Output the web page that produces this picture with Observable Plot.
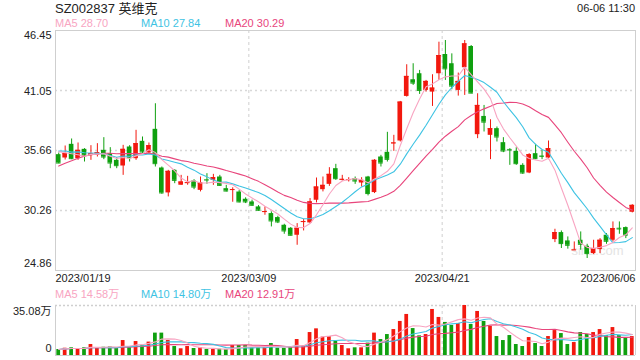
<!DOCTYPE html>
<html><head><meta charset="utf-8">
<script src="https://cdn.jsdelivr.net/npm/d3@7"></script>
<script src="https://cdn.jsdelivr.net/npm/@observablehq/plot@0.6"></script>
<style>
body{margin:0;background:#fff;font-family:Arial,"Liberation Sans","Noto Sans CJK SC",sans-serif;}
#wrap{position:relative;width:640px;height:360px;overflow:hidden;background:#fff}
#wrap svg{position:absolute;left:0}
.t{position:absolute;white-space:nowrap;line-height:1;font-size:11px}
</style></head><body><div id="wrap"></div>
<script>
// ---- data ----
const title = "SZ002837 英维克";
const timeLabel = "06-06 11:30";
const priceMALegend = ["MA5 28.70", "MA10 27.84", "MA20 30.29"];
const volMALegend = ["MA5 14.58万", "MA10 14.80万", "MA20 12.91万"];
const priceTicks = [46.45, 41.05, 35.66, 30.26, 24.86];
const priceTickLabels = ["46.45", "41.05", "35.66", "30.26", "24.86"];
const volTicks = [35.08, 0];
const volTickLabels = ["35.08万", "0"];
const dateLabels = ["2023/01/19", "2023/03/09", "2023/04/21", "2023/06/06"];
const dateIdx = [0, 30, 60, 89];

const open = [35.28,34.98,36.21,34.92,35.76,35.19,35.22,35.67,35.37,34.77,34.26,35.97,34.92,36.48,35.43,37.56,34.08,31.84,33.87,32.53,
32.70,32.91,32.07,33.03,32.97,33.27,32.22,32.10,31.92,31.27,31.03,30.58,30.10,29.98,29.62,28.93,28.66,28.03,29.20,29.14,
31.18,32.13,32.61,34.02,33.00,33.00,33.12,32.73,33.27,31.87,35.07,35.49,36.27,36.51,40.52,42.02,42.56,41.06,40.91,42.56,
44.29,43.46,41.06,43.10,45.01,37.08,38.72,37.02,37.62,36.36,35.75,35.58,34.32,33.63,35.37,35.16,34.98,27.64,28.27,27.52,
26.68,27.58,27.04,26.38,26.74,28.03,27.58,28.66,28.72,30.10];
const close = [34.53,35.37,34.92,35.67,35.22,35.37,35.46,35.07,34.53,34.29,35.76,35.01,36.27,35.52,36.09,34.47,31.84,33.78,32.97,32.82,
32.76,32.37,32.73,33.00,33.21,32.52,32.01,32.14,31.03,31.03,30.73,30.28,30.16,29.32,29.23,28.42,28.03,28.66,29.26,31.03,
32.37,32.52,33.51,33.12,33.06,33.03,32.91,32.97,31.78,34.77,34.53,34.86,36.33,40.01,42.32,41.72,41.06,41.87,41.27,44.20,
43.00,41.45,41.87,45.25,40.82,39.71,38.21,37.62,36.87,35.61,35.70,34.47,33.63,35.28,34.92,35.13,35.82,28.27,27.28,27.13,
26.71,27.22,26.38,26.83,27.58,27.49,28.63,28.60,28.03,30.72];
const high = [35.43,36.06,36.69,36.33,35.82,36.09,36.27,36.81,35.91,35.01,36.12,36.09,37.47,36.87,36.33,39.86,34.17,33.87,33.93,33.42,
33.33,33.03,33.27,33.57,33.51,33.42,32.52,32.30,32.07,31.40,31.19,30.70,30.58,30.13,29.74,29.02,28.72,29.08,29.44,31.33,
33.18,33.27,34.11,34.41,33.42,33.21,33.27,33.21,33.33,34.83,35.22,37.29,37.02,40.07,43.37,43.46,42.86,41.96,42.47,45.40,
45.55,44.35,42.62,45.55,45.10,40.76,39.71,38.42,37.77,36.81,35.82,35.91,34.47,35.37,36.21,35.67,36.51,28.57,28.42,27.88,
27.43,28.33,27.22,27.58,27.73,28.18,29.23,29.23,28.78,30.78];
const low = [34.47,34.80,34.83,34.77,34.62,34.77,35.07,34.83,34.02,34.02,33.42,34.62,34.77,35.37,35.31,34.17,31.72,31.48,32.67,32.53,
32.53,32.13,31.93,32.61,32.52,32.43,31.93,31.00,30.94,30.88,30.64,30.19,29.83,28.78,29.08,28.12,27.97,27.13,28.42,29.08,
30.94,31.93,32.43,32.97,32.91,32.82,32.61,32.37,31.57,31.78,34.17,34.62,35.58,36.42,40.46,41.51,40.70,40.91,39.62,41.96,
41.96,41.12,40.55,40.61,40.76,36.72,37.32,34.83,36.42,35.46,34.32,34.32,33.51,33.57,34.83,34.83,34.83,27.37,26.84,26.78,
26.68,26.68,25.94,26.29,26.38,27.22,27.43,28.12,27.73,30.04];
// volume in 万 (10k shares)
const volume = [4.2,5.1,5.4,4.9,5.4,7.7,5.1,5.8,6.1,4.9,10.5,5.8,9.8,7.0,9.4,15.7,15.7,10.5,6.3,4.7,
6.3,4.9,5.4,4.2,4.2,4.4,4.2,7.0,7.0,7.0,5.4,5.4,6.3,8.4,5.1,5.1,5.8,11.2,7.0,16.1,
18.7,12.9,13.3,10.5,7.0,4.7,5.4,5.4,8.7,15.7,11.2,14.7,18.2,23.9,28.8,18.9,13.8,14.7,32.3,26.7,
23.2,21.1,22.5,35.08,21.8,30.9,23.9,20.4,13.3,10.5,14.0,7.7,6.3,12.6,8.4,6.3,13.3,17.5,15.4,7.7,
9.1,16.1,14.7,16.1,18.2,14.0,19.6,14.0,12.6,13.3];
// estimated closes of the 19 sessions before the first shown day (only feed the moving averages)
const priorCloses = [30.2,30.6,31.0,31.4,33.0,33.6,34.2,34.6,35.0,35.4,35.3,35.9,35.5,36.0,35.6,35.8,35.4,36.1,35.9];

// ---- styling ----
const UP = "#f2180e", DOWN = "#0fa00f";
const MA5C = "#f8a5c2", MA10C = "#3ec3e3", MA20C = "#e8457c";
const TXT = "#222";
const FONT = 'Arial, "Liberation Sans", "Noto Sans CJK SC", sans-serif';

const N = close.length;
const idx = d3.range(N);
const candles = idx.map(i => ({i, o: open[i], h: high[i], l: low[i], c: close[i], v: volume[i],
  col: close[i] >= open[i] ? UP : DOWN}));
const allC = priorCloses.concat(close);
const off = priorCloses.length;
const maP = n => idx.map(i => ({i, v: d3.mean(allC.slice(i + off - n + 1, i + off + 1))}));
const maV = n => idx.map(i => ({i, v: d3.mean(volume.slice(Math.max(0, i - n + 1), i + 1))}));

const style = {fontFamily: FONT, fontSize: "11px", color: TXT, background: "transparent", overflow: "visible"};
const hw = 0.36;

const price = Plot.plot({
  width: 640, height: 285, marginLeft: 55, marginRight: 5, marginTop: 30, marginBottom: 15,
  style,
  x: {domain: [-0.5, N - 0.5], axis: null},
  y: {domain: [priceTicks[priceTicks.length - 1], priceTicks[0]], axis: null},
  color: {type: "identity"},
  marks: [
    Plot.ruleY(priceTicks.slice(1, -1), {stroke: "#d8d8d8", strokeWidth: 1.5, strokeDasharray: "2,3"}),
    Plot.ruleX(dateIdx.slice(1, -1), {x: d => d - 0.5, stroke: "#cfcfcf", strokeDasharray: "3,3"}),
    Plot.frame({stroke: "#cfcfcf"}),
    Plot.text(["sina.com"], {frameAnchor: "bottom-right", dx: -12, dy: -16, text: d => d, fill: "#e4e4e4", fontSize: 13}),
    Plot.ruleX(candles, {x: "i", y1: "l", y2: "h", stroke: "col", strokeWidth: 1}),
    Plot.rect(candles, {x1: d => d.i - hw, x2: d => d.i + hw, y1: "o", y2: "c", fill: "col"}),
    Plot.ruleY(candles, {x1: d => d.i - hw, x2: d => d.i + hw, y: "c", stroke: "col"}),
    Plot.line(maP(20), {x: "i", y: "v", stroke: MA20C, strokeWidth: 1.1}),
    Plot.line(maP(10), {x: "i", y: "v", stroke: MA10C, strokeWidth: 1.1}),
    Plot.line(maP(5), {x: "i", y: "v", stroke: MA5C, strokeWidth: 1.1}),
    Plot.text([0], {y: () => priceTicks[0], text: () => priceTickLabels[0], frameAnchor: "left", dx: -4, textAnchor: "end", lineAnchor: "bottom", dy: 8.5, fill: TXT}),
    Plot.text(d3.range(1, priceTicks.length - 1), {y: i => priceTicks[i], text: i => priceTickLabels[i], frameAnchor: "left", dx: -4, textAnchor: "end", lineAnchor: "bottom", dy: 4, fill: TXT}),
    Plot.text([priceTicks.length - 1], {y: i => priceTicks[i], text: i => priceTickLabels[i], frameAnchor: "left", dx: -4, textAnchor: "end", lineAnchor: "bottom", dy: -3.3, fill: TXT}),
    Plot.text([0], {x: i => dateIdx[i] - 0.5, text: i => dateLabels[i], frameAnchor: "bottom", textAnchor: "start", lineAnchor: "bottom", dy: 11.7, fill: TXT}),
    Plot.text([1, 2], {x: i => dateIdx[i] - 0.5, text: i => dateLabels[i], frameAnchor: "bottom", textAnchor: "middle", lineAnchor: "bottom", dy: 11.7, fill: TXT}),
    Plot.text([3], {x: i => dateIdx[i] + 0.5, text: i => dateLabels[i], frameAnchor: "bottom", textAnchor: "end", lineAnchor: "bottom", dy: 11.7, fill: TXT})
  ]
});
price.style.top = "0px";

const vmax = volTicks[0];
const vol = Plot.plot({
  width: 640, height: 60, marginLeft: 55, marginRight: 5, marginTop: 5, marginBottom: 5,
  style,
  x: {domain: [-0.5, N - 0.5], axis: null},
  y: {domain: [0, vmax], axis: null},
  color: {type: "identity"},
  marks: [
    Plot.ruleY([vmax], {stroke: "#cfcfcf", strokeWidth: 1.5, strokeDasharray: "2,2"}),
    Plot.ruleX(dateIdx.slice(1, -1), {x: d => d - 0.5, stroke: "#cfcfcf", strokeDasharray: "3,3"}),
    Plot.ruleX([-0.5, N - 0.5], {stroke: "#cfcfcf"}),
    Plot.ruleY([0], {stroke: "#cfcfcf"}),
    Plot.rect(candles, {x1: d => d.i - 0.29, x2: d => d.i + 0.29, y1: 0, y2: "v", fill: "col"}),
    Plot.line(maV(20), {x: "i", y: "v", stroke: MA20C, strokeWidth: 1.1}),
    Plot.line(maV(10), {x: "i", y: "v", stroke: MA10C, strokeWidth: 1.1}),
    Plot.line(maV(5), {x: "i", y: "v", stroke: MA5C, strokeWidth: 1.1}),
    Plot.text([0], {y: i => volTicks[i], text: i => volTickLabels[i], frameAnchor: "left", dx: -4, textAnchor: "end", lineAnchor: "bottom", dy: 9.5, fill: TXT}),
    Plot.text([1], {y: i => volTicks[i], text: i => volTickLabels[i], frameAnchor: "left", dx: -4, textAnchor: "end", lineAnchor: "bottom", dy: -3.3, fill: TXT})
  ]
});
vol.style.top = "300px";

const wrap = document.getElementById("wrap");
wrap.appendChild(price);
wrap.appendChild(vol);

function label(text, left, top, color, size, right) {
  const d = document.createElement("div");
  d.className = "t";
  d.textContent = text;
  d.style.top = top + "px";
  if (right) d.style.right = (640 - left) + "px"; else d.style.left = left + "px";
  d.style.color = color;
  d.style.fontSize = size + "px";
  wrap.appendChild(d);
}
label(title, 55, 1.5, "#222", 13);
label(timeLabel, 635, 2.6, "#222", 11, true);
const maCols = [MA5C, MA10C, MA20C];
const legX = [55, 141, 225];
priceMALegend.forEach((t, k) => label(t, legX[k], 18, maCols[k], 11));
volMALegend.forEach((t, k) => label(t, legX[k], 288.5, maCols[k], 11));
</script>
</body></html>
